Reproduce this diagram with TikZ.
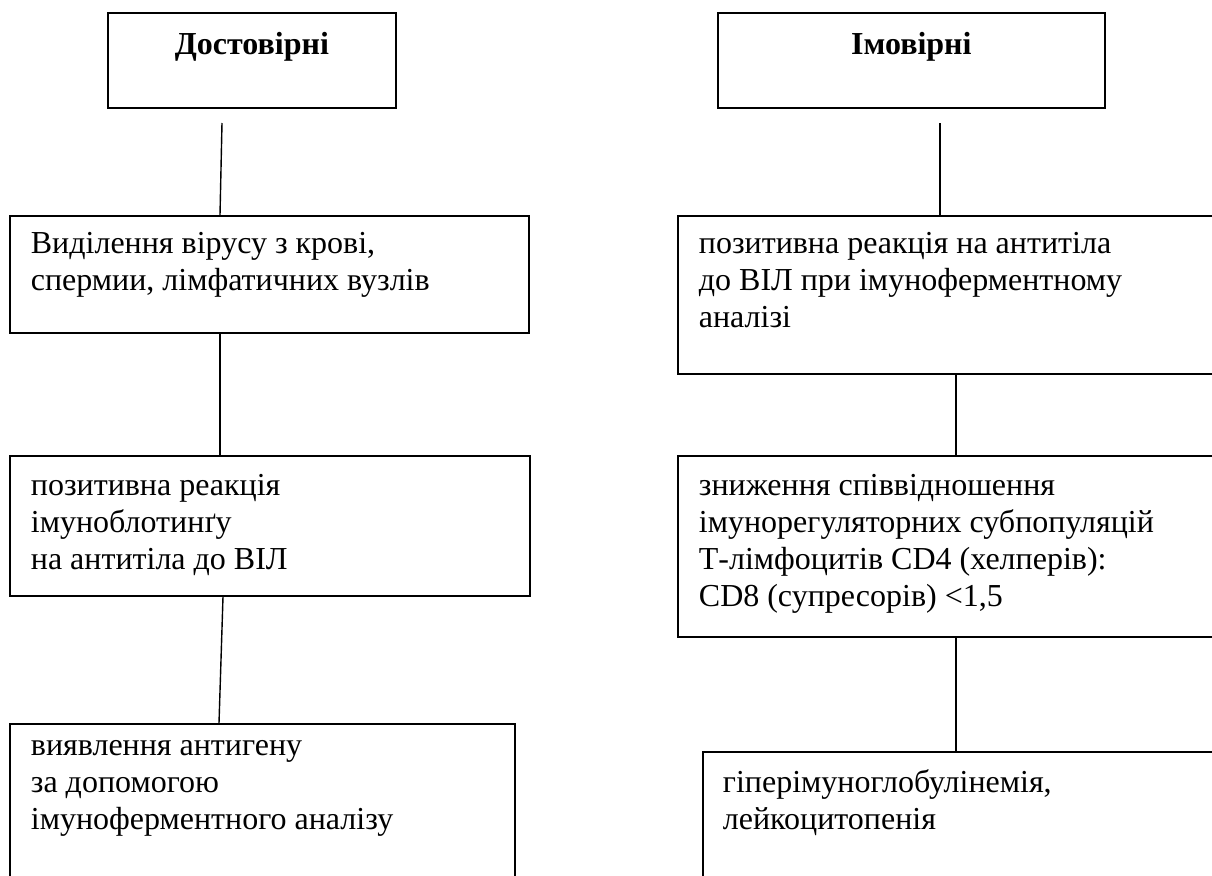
\documentclass[tikz,border=0pt]{standalone}
\usepackage{fontspec}
\setmainfont{Liberation Serif}
\newcommand{\celltext}[5]{\parbox[c][#2][t]{#1}{\vspace*{#3}\leftskip=#4\relax\strut #5}}
\newcommand{\headtext}[4]{\parbox[c][#2][t]{#1}{\centering\vspace*{#3}\strut\textbf{#4}}}

\begin{document}
\begin{tikzpicture}[x=1pt, y=-1pt,
  cell/.style={draw, line width=1.8pt, anchor=north west, inner sep=0pt, font=\fontsize{32}{37}\selectfont},
  link/.style={line width=1.4pt}]
\useasboundingbox (0,0) rectangle (1212,875);
\clip (0,0) rectangle (1212,875);
% left column
\node[cell] (hdrL) at (107,12) {\headtext{288pt}{95pt}{16pt}{Достовірні}};
\node[cell] (L1) at (9,215) {\celltext{519pt}{117pt}{12pt}{21pt}{Виділення вірусу з крові,\\ спермии, лімфатичних вузлів}};
\node[cell] (L2) at (9,455) {\celltext{520pt}{140pt}{14pt}{21pt}{позитивна реакція\\ імуноблотинґу\\ на антитіла до ВІЛ}};
\node[cell] (L3) at (9,723) {\celltext{505pt}{170pt}{6pt}{21pt}{виявлення антигену\\ за допомогою\\ імуноферментного аналізу}};
\coordinate (tL) at (222,123);
\draw[link] (tL) -- ([xshift=-2pt]tL |- L1.north);
\draw[link] ([xshift=-2pt]L1.south -| tL) -- ([xshift=-2pt]L2.north -| tL);
\draw[link] ([xshift=1pt]L2.south -| tL) -- ([xshift=-3pt]L3.north -| tL);
% right column
\node[cell] (hdrR) at (717,12) {\headtext{387pt}{95pt}{16pt}{Імовірні}};
\node[cell] (R1) at (677,215) {\celltext{545pt}{158pt}{12pt}{21pt}{позитивна реакція на антитіла\\ до ВІЛ при імуноферментному\\ аналізі}};
\node[cell] (R2) at (677,455) {\celltext{545pt}{181pt}{14pt}{21pt}{зниження співвідношення\\ імунорегуляторних субпопуляцій\\ Т-лімфоцитів CD4 (хелперів):\\ CD8 (супресорів) <1,5}};
\node[cell] (R3) at (702,751) {\celltext{520pt}{140pt}{15pt}{20pt}{гіперімуноглобулінемія,\\ лейкоцитопенія}};
\coordinate (tR) at (940,123);
\coordinate (mR) at (956,373);
\draw[link] (tR) -- (tR |- R1.north);
\draw[link] (R1.south -| mR) -- (R2.north -| mR);
\draw[link] (R2.south -| mR) -- (R3.north -| mR);
\end{tikzpicture}
\end{document}
